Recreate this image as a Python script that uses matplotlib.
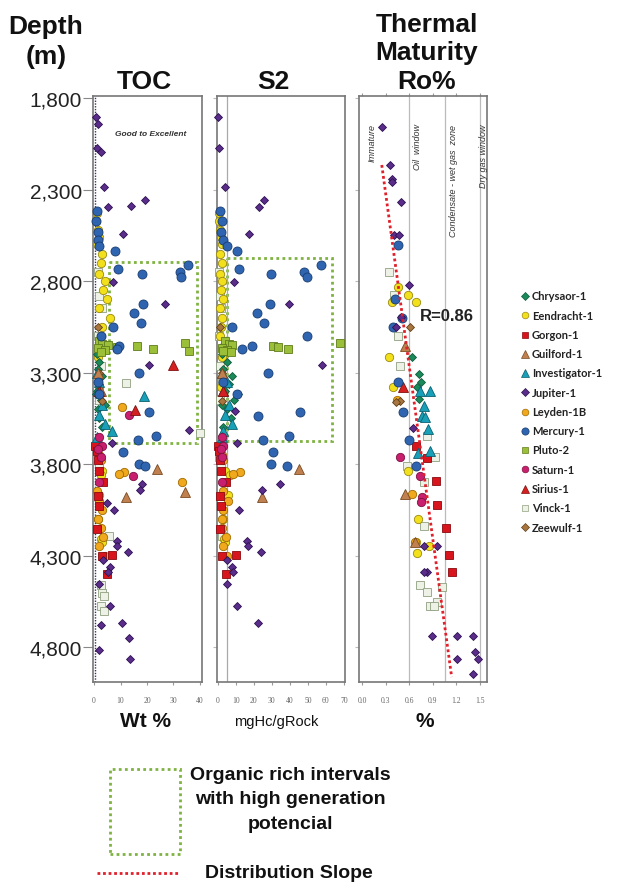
import numpy as np
import matplotlib.pyplot as plt
from matplotlib.lines import Line2D
from matplotlib.patches import Rectangle

nan = np.nan

# ---- data (depth in m) ----
wells = ["Chrysaor-1", "Eendracht-1", "Gorgon-1", "Guilford-1", "Investigator-1",
         "Jupiter-1", "Leyden-1B", "Mercury-1", "Pluto-2", "Saturn-1",
         "Sirius-1", "Vinck-1", "Zeewulf-1"]

chrysaor_depth = [3200, 3240, 3280, 3320, 3360, 3400, 3450, 3500, 3550, 3600, 3420, 3480]
chrysaor_toc = [1.0, 2.0, 1.5, 3.0, 2.0, 1.0, 2.5, 1.5, 2.0, 3.0, 0.8, 4.0]
chrysaor_s2 = [2.0, 5.0, 3.0, 8.0, 6.0, 4.0, 9.0, 5.0, 7.0, 3.0, 11.0, 2.5]
chrysaor_ro_depth = [3215, 3308, 3352, 3445, 3380]
chrysaor_ro = [0.64, 0.72, 0.75, 0.72, 0.70]

eendracht_depth = [2430, 2470, 2520, 2560, 2600, 2650, 2700, 2760, 2800, 2850, 2900,
                   2950, 3000, 3050, 3100, 3215, 3379, 3838, 3860, 3970, 4100, 4210, 4226]
eendracht_toc = [1.0, 0.8, 1.5, 2.0, 1.2, 3.0, 2.5, 1.8, 4.0, 3.5, 5.0,
                 2.0, 6.0, 3.0, 2.5, 1.5, 2.0, 3.0, 2.5, 2.0, 1.5, 2.5, 3.0]
eendracht_s2 = [0.5, 0.8, 1.0, 1.5, 2.0, 1.2, 2.5, 1.0, 2.0, 1.5, 3.0,
                1.0, 2.0, 1.5, 1.0, 2.0, 1.5, 3.9, 6.7, 5.6, 2.8, 3.5, 4.0]
eendracht_ro_depth = [2833, 2915, 2876, 2915, 3215, 3379, 3838, 4100, 4226, 4286, 4248]
eendracht_ro = [0.46, 0.38, 0.58, 0.69, 0.34, 0.39, 0.58, 0.71, 0.69, 0.70, 0.85]

gorgon_depth = [3701, 3730, 3778, 3838, 3898, 3975, 4029, 4155, 4297, 4302, 4401]
gorgon_toc = [0.5, 1.0, 1.5, 2.0, 3.4, 1.5, 2.0, 1.0, 6.8, 3.0, 4.9]
gorgon_s2 = [0.2, 0.5, 1.1, 1.5, 4.4, 1.1, 1.5, 1.1, 10.0, 2.0, 4.4]
gorgon_ro_depth = [3701, 3767, 3893, 4024, 4150, 4297, 4390]
gorgon_ro = [0.69, 0.83, 0.94, 0.95, 1.07, 1.10, 1.14]

guilford_depth = [3300, 3400, 3827, 3953, 3980]
guilford_toc = [1.5, 2.5, 23.8, 34.3, 12.0]
guilford_s2 = [2.0, 3.0, 45.0, nan, 24.4]
guilford_ro_depth = [3155, 3964, 4226]
guilford_ro = [0.55, 0.55, 0.67]

investigator_depth = [3300, 3350, 3400, 3428, 3480, 3530, 3580, 3620, 3650]
investigator_toc = [1.0, 2.0, 1.5, 18.9, 3.0, 2.0, 4.0, 6.8, 1.0]
investigator_s2 = [2.0, 5.0, 3.0, nan, 6.0, 4.0, 8.0, 3.0, 2.0]
investigator_ro_depth = [3401, 3401, 3483, 3538, 3545, 3609, 3729, 3740]
investigator_ro = [0.74, 0.86, 0.79, 0.76, 0.80, 0.84, 0.86, 0.71]

jupiter_depth = [1904, 1942, 2073, 2095, 2286, 2396, 2390, 2357, 2543, 2805, 2926,
                 3259, 3510, 3614, 3685, 3909, 3942, 4013, 4051, 4221, 4248, 4281,
                 4324, 4363, 4390, 4455, 4576, 4669, 4680, 4751, 4816, 4865]
jupiter_toc = [0.6, 1.4, 1.0, 2.6, 3.8, 5.3, 14.0, 19.2, 11.0, 7.2, 27.0,
               20.8, nan, 36.0, 6.7, 18.0, 17.4, 4.8, 7.6, 8.7, 8.5, 12.9,
               3.5, 6.0, 5.3, 2.0, 6.0, 10.6, 2.6, 13.2, 1.9, 13.6]
jupiter_s2 = [0.2, nan, 0.6, nan, 3.9, 22.8, nan, 25.6, 17.2, 8.9, 39.4,
              57.8, 9.4, nan, 10.6, 34.4, 24.4, nan, 11.7, 16.1, 16.7, 23.9,
              5.0, 7.8, 8.3, 5.0, 10.6, 22.2, nan, nan, nan, nan]
jupiter_ro_depth = [1959, 2166, 2243, 2259, 2368, 2549, 2549, 2822, 2997, 3051, 3603,
                    4248, 4248, 4390, 4390, 4740, 4740, 4740, 4827, 4865, 4865, 4947]
jupiter_ro = [0.25, 0.36, 0.38, 0.38, 0.50, 0.41, 0.47, 0.60, 0.50, 0.43, 0.65,
              0.95, 0.79, 0.83, 0.79, 0.89, 1.21, 1.41, 1.44, 1.47, 1.21, 1.41]

leyden_depth = [3488, 3700, 3750, 3780, 3844, 3855, 3898, 3950, 4000, 4050, 4100,
                4150, 4200, 4250, 4300]
leyden_toc = [10.6, 1.5, 2.0, 2.5, 11.3, 9.4, 33.2, 1.0, 2.0, 3.0, 1.5,
              2.5, 3.5, 2.0, 4.0]
leyden_s2 = [nan, 1.0, 2.0, 3.0, 12.2, 8.3, nan, 2.8, 5.6, 3.0, 2.0,
             2.0, 4.5, 3.0, 5.0]
leyden_ro_depth = [3450, 3964, 4226]
leyden_ro = [0.44, 0.64, 0.67]

mercury_depth = [2420, 2470, 2530, 2576, 2609, 2636, 2712, 2734, 2751, 2762, 2778,
                 2926, 2975, 3029, 3051, 3100, 3155, 3171, 3303, 3350, 3417, 3516,
                 3538, 3647, 3669, 3734, 3800, 3811]
mercury_toc = [1.2, 0.8, 1.5, 1.5, 2.0, 8.0, 35.5, 9.0, 32.5, 18.0, 32.8,
               18.5, 15.1, 17.7, 7.2, 2.5, 9.4, 8.7, 17.0, 1.5, 2.0, 20.8,
               nan, 23.4, 16.6, 10.9, 17.0, 19.2]
mercury_s2 = [1.0, 2.0, 1.5, 2.8, 5.0, 10.6, 57.2, 11.7, 47.8, 29.4, 49.4,
              28.9, 21.7, 25.6, 7.8, 49.4, 18.9, 13.3, 27.8, 3.0, 10.6, 45.6,
              22.2, 39.4, 25.0, 30.6, 29.4, 38.3]
mercury_ro_depth = [2603, 2898, 3002, 3051, 3352, 3516, 3669, 3811]
mercury_ro = [0.46, 0.42, 0.51, 0.39, 0.46, 0.52, 0.60, 0.69]

pluto_depth = [3130, 3139, 3145, 3150, 3155, 3160, 3165, 3171, 3175, 3182, 3190]
pluto_toc = [2.0, 34.3, 3.0, 5.3, 16.2, 8.7, 1.5, 22.3, 4.2, 35.8, 2.5]
pluto_s2 = [4.0, 67.8, 6.0, 8.0, 30.6, 33.3, 2.0, 38.9, 5.0, 3.0, 7.0]

saturn_depth = [3532, 3650, 3700, 3720, 3760, 3866, 3900]
saturn_toc = [13.2, 2.0, 3.0, 1.5, 2.5, 14.8, 2.0]
saturn_s2 = [nan, 2.0, 3.0, 1.5, 2.5, nan, 2.0]
saturn_ro_depth = [3762, 3866, 3980, 4008]
saturn_ro = [0.48, 0.74, 0.76, 0.75]

sirius_depth = [3259, 3505, 3400]
sirius_toc = [30.0, 15.5, 2.0]
sirius_s2 = [nan, nan, 3.0]
sirius_ro_depth = [3380]
sirius_ro = [0.52]

vinck_depth = [2750, 2880, 2950, 3100, 3264, 3357, 3450, 3630, 3762, 3811, 4193,
               4461, 4505, 4520, 4576, 4603]
vinck_toc = [1.5, 2.0, 3.0, 1.5, 2.5, 12.0, 1.8, 40.0, 1.0, 2.0, 5.7,
             2.5, 3.0, 3.8, 2.5, 3.8]
vinck_s2 = [0.5, 1.0, 1.5, 0.8, 1.2, 2.0, 1.0, nan, 0.8, 1.5, 2.0,
            nan, nan, nan, nan, nan]
vinck_ro_depth = [2751, 2876, 3100, 3264, 3647, 3762, 3811, 3898, 4139, 4461, 4500,
                  4472, 4554, 4576, 4576]
vinck_ro = [0.34, 0.41, 0.46, 0.48, 0.83, 0.93, 0.57, 0.79, 0.79, 0.74, 0.83,
            1.02, 0.95, 0.86, 0.91]

zeewulf_depth = [3050, 3150, 3300, 3456]
zeewulf_toc = [1.5, 2.5, 2.0, 3.0]
zeewulf_s2 = [1.0, 3.0, 2.0, 2.0]
zeewulf_ro_depth = [3051, 3456, 3460]
zeewulf_ro = [0.61, 0.48, 0.43]

# organic rich intervals (x0, x1, top, base) and distribution slope
rich_toc = [5.7, 38.9, 2696, 3685]
rich_s2 = [5.0, 63.3, 2674, 3674]
slope_ro = [0.25, 1.14]
slope_depth = [2166, 4964]

depth_ticks = [1800, 2300, 2800, 3300, 3800, 4300, 4800]

# ---- styles ----
styles = {
    "Chrysaor-1": ("D", "#1b8a5a", "#0f5a3a", 4.5),
    "Eendracht-1": ("o", "#f2e01c", "#9a8a10", 6.0),
    "Gorgon-1": ("s", "#d8141c", "#8a0a10", 6.0),
    "Guilford-1": ("^", "#c08050", "#7a4a20", 6.5),
    "Investigator-1": ("^", "#18a0b8", "#0a6070", 6.5),
    "Jupiter-1": ("D", "#5a2d8a", "#2d1050", 4.5),
    "Leyden-1B": ("o", "#f0a81c", "#a06a00", 6.0),
    "Mercury-1": ("o", "#2e64b0", "#1a3c70", 6.5),
    "Pluto-2": ("s", "#9cbf3a", "#5f7d1a", 6.0),
    "Saturn-1": ("o", "#c8206e", "#801040", 6.0),
    "Sirius-1": ("^", "#d42020", "#801010", 6.5),
    "Vinck-1": ("s", "#eef2e6", "#8fa080", 6.0),
    "Zeewulf-1": ("D", "#a8763e", "#604018", 4.5),
}

toc_sets = [
    ("Vinck-1", vinck_depth, vinck_toc, vinck_s2),
    ("Eendracht-1", eendracht_depth, eendracht_toc, eendracht_s2),
    ("Leyden-1B", leyden_depth, leyden_toc, leyden_s2),
    ("Gorgon-1", gorgon_depth, gorgon_toc, gorgon_s2),
    ("Chrysaor-1", chrysaor_depth, chrysaor_toc, chrysaor_s2),
    ("Investigator-1", investigator_depth, investigator_toc, investigator_s2),
    ("Zeewulf-1", zeewulf_depth, zeewulf_toc, zeewulf_s2),
    ("Saturn-1", saturn_depth, saturn_toc, saturn_s2),
    ("Guilford-1", guilford_depth, guilford_toc, guilford_s2),
    ("Sirius-1", sirius_depth, sirius_toc, sirius_s2),
    ("Pluto-2", pluto_depth, pluto_toc, pluto_s2),
    ("Mercury-1", mercury_depth, mercury_toc, mercury_s2),
    ("Jupiter-1", jupiter_depth, jupiter_toc, jupiter_s2),
]
ro_sets = [
    ("Vinck-1", vinck_ro_depth, vinck_ro),
    ("Eendracht-1", eendracht_ro_depth, eendracht_ro),
    ("Leyden-1B", leyden_ro_depth, leyden_ro),
    ("Gorgon-1", gorgon_ro_depth, gorgon_ro),
    ("Chrysaor-1", chrysaor_ro_depth, chrysaor_ro),
    ("Investigator-1", investigator_ro_depth, investigator_ro),
    ("Zeewulf-1", zeewulf_ro_depth, zeewulf_ro),
    ("Saturn-1", saturn_ro_depth, saturn_ro),
    ("Guilford-1", guilford_ro_depth, guilford_ro),
    ("Sirius-1", sirius_ro_depth, sirius_ro),
    ("Mercury-1", mercury_ro_depth, mercury_ro),
    ("Jupiter-1", jupiter_ro_depth, jupiter_ro),
]

W, H = 617, 887
fig = plt.figure(figsize=(W / 100, H / 100), dpi=100)
plt.rcParams['font.family'] = ['Liberation Sans', 'DejaVu Sans']


def px_axes(x0, x1, y0, y1):
    return fig.add_axes([x0 / W, 1 - y1 / H, (x1 - x0) / W, (y1 - y0) / H])


ax_toc = px_axes(93, 202, 97, 683)
ax_s2 = px_axes(217, 345, 97, 683)
ax_ro = px_axes(359, 487, 97, 683)

for ax in (ax_toc, ax_s2, ax_ro):
    ax.set_ylim(4991, 1789)
    for sp in ax.spines.values():
        sp.set_color('#777777')
        sp.set_linewidth(1.2)
    ax.tick_params(axis='x', labelsize=5.5, labelcolor='#666666', length=2,
                   color='#999999', pad=8)
    ax.set_yticks(depth_ticks)
    ax.tick_params(axis='y', length=3, color='#bbbbbb', labelleft=False)

ax_toc.tick_params(axis='y', length=7, color='#888888', labelleft=True,
                   labelsize=15, labelcolor='#222222', pad=1)
ax_toc.set_yticklabels([f"{d:,}" for d in depth_ticks])

ax_toc.set_xlim(-0.4, 40.8)
ax_toc.set_xticks([0, 10, 20, 30, 40])
ax_s2.set_xlim(-0.5, 70.6)
ax_s2.set_xticks([0, 10, 20, 30, 40, 50, 60, 70])
ax_ro.set_xlim(-0.04, 1.59)
ax_ro.set_xticks([0.0, 0.3, 0.6, 0.9, 1.2, 1.5])
ax_ro.set_xticklabels(["0.0", "0.3", "0.6", "0.9", "1.2", "1.5"])
ax_ro.tick_params(axis='x', top=True)
for ax in (ax_toc, ax_s2, ax_ro):
    for lab in ax.get_xticklabels():
        lab.set_family('Liberation Serif')

# reference lines
ax_toc.axvline(0.5, color='#333366', lw=1.0, ls=(0, (1, 1)))
ax_s2.axvline(5, color='#aaaaaa', lw=0.9)
for v in (0.6, 1.05, 1.5):
    ax_ro.axvline(v, color='#bbbbbb', lw=0.9)

# organic rich boxes
for ax, r in ((ax_toc, rich_toc), (ax_s2, rich_s2)):
    ax.add_patch(Rectangle((r[0], r[2]), r[1] - r[0], r[3] - r[2], fill=False,
                           ec='#7fb241', lw=2.0, ls=(0, (1, 1.2)), zorder=1))

# points
for name, d, toc, s2 in toc_sets:
    m, fc, ec, ms = styles[name]
    ax_toc.plot(toc, d, ls='none', marker=m, ms=ms, mfc=fc, mec=ec, mew=0.6,
                clip_on=False, zorder=3)
    ax_s2.plot(s2, d, ls='none', marker=m, ms=ms, mfc=fc, mec=ec, mew=0.6,
               clip_on=False, zorder=3)
for name, d, ro in ro_sets:
    m, fc, ec, ms = styles[name]
    ax_ro.plot(ro, d, ls='none', marker=m, ms=ms, mfc=fc, mec=ec, mew=0.6,
               zorder=3)

ax_ro.plot(slope_ro, slope_depth, color='#e0202a', lw=2.0, ls=(0, (1, 1)), zorder=4)

# zone labels
zone_kw = dict(rotation=90, fontsize=6.5, style='italic', color='#333333',
               ha='center', va='center')
fig.text(372 / W, 1 - 143 / H, "Immature", **zone_kw)
fig.text(418 / W, 1 - 147 / H, "Oil  window", **zone_kw)
fig.text(454 / W, 1 - 181 / H, "Condensate - wet gas  zone", **zone_kw)
fig.text(483 / W, 1 - 156 / H, "Dry gas window", **zone_kw)
fig.text(447 / W, 1 - 317 / H, "R=0.86", fontsize=12, fontweight='bold',
         ha='center', va='center', color='#222222')
fig.text(151 / W, 1 - 135 / H, "Good to Excellent", fontsize=6, fontweight='bold',
         style='italic', ha='center', va='center', color='#333333')

# titles
title_kw = dict(fontsize=19, fontweight='bold', ha='center', va='center', color='#111111')
fig.text(46 / W, 1 - 27 / H, "Depth", **title_kw)
fig.text(46 / W, 1 - 57 / H, "(m)", **title_kw)
fig.text(144 / W, 1 - 82 / H, "TOC", **title_kw)
fig.text(273 / W, 1 - 82 / H, "S2", **title_kw)
fig.text(427 / W, 1 - 25 / H, "Thermal", **title_kw)
fig.text(427 / W, 1 - 53 / H, "Maturity", **title_kw)
fig.text(427 / W, 1 - 82 / H, "Ro%", **title_kw)

fig.text(145 / W, 1 - 722 / H, "Wt %", fontsize=15, fontweight='bold',
         ha='center', va='center', color='#111111')
fig.text(276 / W, 1 - 722 / H, "mgHc/gRock", fontsize=10.5,
         ha='center', va='center', color='#111111')
fig.text(425 / W, 1 - 722 / H, "%", fontsize=15, fontweight='bold',
         ha='center', va='center', color='#111111')

# well legend
for i, name in enumerate(wells):
    m, fc, ec, ms = styles[name]
    y = 1 - (297 + i * 19.25) / H
    fig.add_artist(Line2D([525 / W], [y], transform=fig.transFigure, ls='none',
                          marker=m, ms=ms * 0.8, mfc=fc, mec=ec, mew=0.5))
    fig.text(532 / W, y, name, fontsize=8, fontweight='bold', family='Lato',
             ha='left', va='center', color='#222222')

# bottom key
fig.add_artist(Rectangle((110 / W, 1 - 855 / H), 70 / W, 85 / H, fill=False,
                         ec='#7fb241', lw=2.0, ls=(0, (1, 1.2)),
                         transform=fig.transFigure))
key_kw = dict(fontsize=14, fontweight='bold', va='center', color='#111111')
fig.text(290 / W, 1 - 776 / H, "Organic rich intervals", ha='center', **key_kw)
fig.text(290 / W, 1 - 800 / H, "with high generation", ha='center', **key_kw)
fig.text(290 / W, 1 - 825 / H, "potencial", ha='center', **key_kw)
fig.add_artist(Line2D([97 / W, 180 / W], [1 - 874 / H, 1 - 874 / H],
                      transform=fig.transFigure, color='#e0202a', lw=2.0,
                      ls=(0, (1, 1))))
fig.text(205 / W, 1 - 874 / H, "Distribution Slope", ha='left', **key_kw)

fig.savefig("out.png", dpi=100, facecolor='white')
